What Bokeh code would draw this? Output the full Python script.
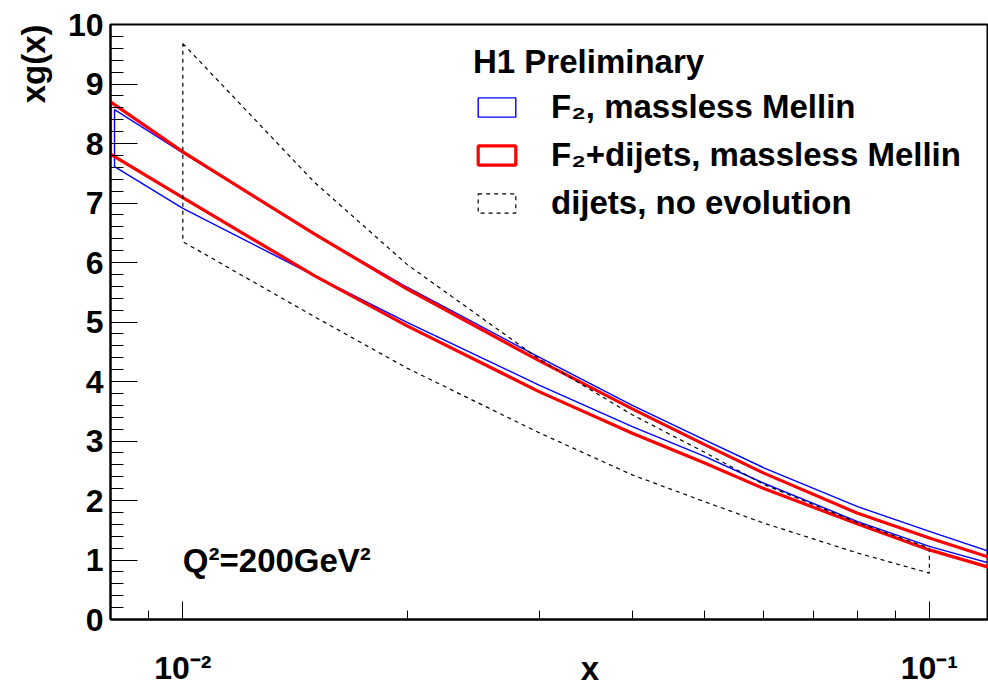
from bokeh.plotting import figure
from bokeh.models import (Range1d, FixedTicker, SingleIntervalTicker, Label,
                          Legend, LegendItem, Title, LogAxis)
from bokeh.embed import file_html
from bokeh.resources import INLINE

# ---------------- data ----------------
x_f2 = [0.0081, 0.01, 0.015, 0.02, 0.03, 0.04, 0.05, 0.06, 0.08, 0.1, 0.12]
f2_up = [8.57, 7.84, 6.48, 5.58, 4.41, 3.60, 3.02, 2.55, 1.90, 1.48, 1.15]
f2_lo = [7.61, 6.91, 5.78, 4.99, 3.94, 3.24, 2.74, 2.29, 1.65, 1.23, 0.95]

x_comb = [0.008, 0.01, 0.015, 0.02, 0.03, 0.04, 0.05, 0.06, 0.08, 0.1, 0.12]
comb_up = [8.70, 7.86, 6.48, 5.55, 4.35, 3.54, 2.94, 2.46, 1.79, 1.37, 1.05]
comb_lo = [7.82, 7.09, 5.78, 4.93, 3.83, 3.13, 2.63, 2.20, 1.61, 1.17, 0.88]

x_dij = [0.01, 0.015, 0.02, 0.03, 0.04, 0.05, 0.06, 0.08, 0.1]
dij_up = [9.68, 7.35, 5.96, 4.38, 3.44, 2.81, 2.27, 1.63, 1.20]
dij_lo = [6.35, 5.09, 4.22, 3.14, 2.43, 1.98, 1.62, 1.12, 0.78]

x_major_ticks = [0.01, 0.1]
x_minor_ticks = [0.009, 0.02, 0.03, 0.04, 0.05, 0.06, 0.07, 0.08, 0.09]
x_tick_labels = {0.01: "10\u207b\u00b2", 0.1: "10\u207b\u00b9"}

series_labels = ["F\u2082, massless Mellin",
                 "F\u2082+dijets, massless Mellin",
                 "dijets, no evolution"]
legend_title = "H1 Preliminary"
q2_text = "Q\u00b2=200GeV\u00b2"
x_title = "x"
y_title = "xg(x)"

# layout constants (ROOT places the x title off-centre)
X_TITLE_AT = 0.0351
FONT = "Liberation Sans"
FS = "32px"
INK = "black"

def band(xs, up, lo):
    return list(xs) + list(xs[::-1]), list(up) + list(lo[::-1])

# ---------------- figure ----------------
p = figure(width=988, height=689, x_axis_type="log",
           x_range=Range1d(0.008, 0.12), y_range=Range1d(0, 10),
           output_backend="svg", toolbar_location=None,
           min_border_left=110, min_border_right=0,
           min_border_top=24, min_border_bottom=69)
p.grid.visible = False
p.outline_line_color = INK
p.outline_line_width = 2
p.background_fill_color = "white"
p.border_fill_color = "white"

bx, by = band(x_f2, f2_up, f2_lo)
r_f2 = p.patch(bx, by, fill_alpha=0, line_color="#0000ff", line_width=1.4)
bx, by = band(x_comb, comb_up, comb_lo)
r_comb = p.patch(bx, by, fill_alpha=0, line_color="#ff0000", line_width=3.2)
bx, by = band(x_dij, dij_up, dij_lo)
r_dij = p.patch(bx, by, fill_alpha=0, line_color=INK, line_width=1.2,
                line_dash="4 4")

# ---------------- axes ----------------
xa = p.xaxis[0]
xa.ticker = FixedTicker(ticks=x_major_ticks, minor_ticks=x_minor_ticks)
xa.major_label_overrides = x_tick_labels
xa.major_tick_in = 18
xa.major_tick_out = 0
xa.minor_tick_in = 9
xa.minor_tick_out = 0
xa.major_label_standoff = 30
ya = p.yaxis[0]
ya.ticker = SingleIntervalTicker(interval=1, num_minor_ticks=5)
ya.major_tick_in = 27
ya.major_tick_out = 0
ya.minor_tick_in = 13
ya.minor_tick_out = 0
ya.major_label_standoff = 7
for ax in (xa, ya):
    ax.axis_line_width = 2
    ax.axis_line_color = INK
    ax.major_tick_line_color = INK
    ax.minor_tick_line_color = INK
    ax.major_tick_line_width = 1
    ax.minor_tick_line_width = 1
    ax.major_label_text_font = FONT
    ax.major_label_text_font_size = FS
    ax.major_label_text_font_style = "bold"
    ax.major_label_text_color = INK

# x title: a bare companion axis that only carries the title text,
# pulled up beside the tick labels as ROOT draws it
xt = LogAxis(ticker=FixedTicker(ticks=[X_TITLE_AT], minor_ticks=[]),
             major_label_overrides={X_TITLE_AT: x_title},
             axis_line_alpha=0, major_tick_line_alpha=0,
             minor_tick_line_alpha=0, major_tick_in=0, major_tick_out=0,
             minor_tick_in=0, minor_tick_out=0, major_label_standoff=-39,
             major_label_text_font=FONT, major_label_text_font_size="33px",
             major_label_text_font_style="bold", major_label_text_color=INK)
p.add_layout(xt, "below")

# y title at the top end of the axis
p.add_layout(Title(text=y_title, align="right", vertical_align="top",
                   standoff=22, text_font=FONT, text_font_size="33px",
                   text_font_style="bold", text_color=INK), "left")

p.add_layout(Label(x=0.01, y=1.0, text=q2_text, text_align="left",
                   text_baseline="alphabetic", text_font=FONT,
                   text_font_size="33px", text_font_style="bold",
                   text_color=INK))

# ---------------- legend ----------------
legend = Legend(items=[LegendItem(label=series_labels[0], renderers=[r_f2]),
                       LegendItem(label=series_labels[1], renderers=[r_comb]),
                       LegendItem(label=series_labels[2], renderers=[r_dij])],
                location=(358, 392), title=legend_title)
legend.title_text_font = FONT
legend.title_text_font_size = "33px"
legend.title_text_font_style = "bold"
legend.title_text_color = INK
legend.title_standoff = 7
legend.label_text_font = FONT
legend.label_text_font_size = "33px"
legend.label_text_font_style = "bold"
legend.label_text_color = INK
legend.glyph_width = 47
legend.glyph_height = 24
legend.label_standoff = 31
legend.spacing = 10
legend.padding = 5
legend.margin = 0
legend.border_line_alpha = 0
legend.background_fill_alpha = 0
p.add_layout(legend)

open("out.html", "w").write(file_html(p, INLINE))
